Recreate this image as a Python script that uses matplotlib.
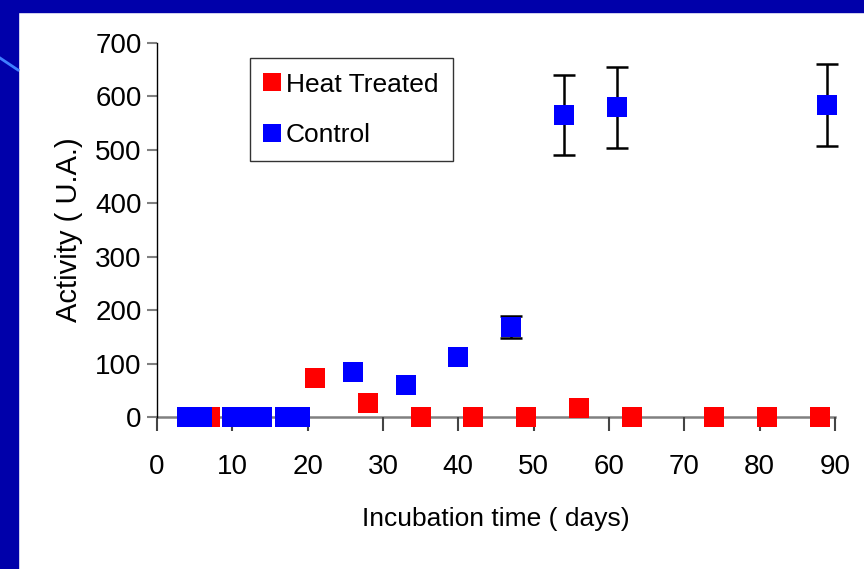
import matplotlib
matplotlib.use('Agg')
import matplotlib.pyplot as plt
from matplotlib.patches import Rectangle
from matplotlib.lines import Line2D

plt.rcParams['font.family'] = ['Liberation Sans', 'DejaVu Sans']

# Данные
heat_days = [4, 7, 14, 18, 21, 28, 35, 42, 49, 56, 63, 74, 81, 88]
heat_activity = [0, 0, 0, 0, 73, 26, 0, 0, 0, 17, 0, 0, 0, 0]

control_days = [4, 6, 10, 12, 14, 17, 19, 26, 33, 40, 47, 54, 61, 89]
control_activity = [0, 0, 0, 0, 0, 0, 0, 84, 60, 112, 168, 565, 580, 584]
control_err = [0, 0, 0, 0, 0, 0, 0, 0, 0, 0, 21, 75, 76, 76]

x_ticks = [0, 10, 20, 30, 40, 50, 60, 70, 80, 90]
y_ticks = [0, 100, 200, 300, 400, 500, 600, 700]

fig = plt.figure(figsize=(8.64, 5.69), dpi=100)
fig.patch.set_facecolor('white')

# Фон слайда: синие полосы слева и сверху
slide_blue = '#0000AA'
fig.add_artist(Rectangle((0, 0), 18 / 864, 1, transform=fig.transFigure, color=slide_blue, zorder=0))
fig.add_artist(Rectangle((0, 1 - 12 / 569), 1, 12 / 569, transform=fig.transFigure, color=slide_blue, zorder=0))
fig.add_artist(Line2D([0, 18 / 864], [1 - 58 / 569, 1 - 70 / 569], transform=fig.transFigure,
                      color='#3F7FFF', linewidth=2, zorder=1))

ax = fig.add_axes([157 / 864, 1 - 417 / 569, (835 - 157) / 864, (417 - 43) / 569])

# Планки погрешностей только там, где они есть
err_idx = [i for i, e in enumerate(control_err) if e > 0]
ax.errorbar([control_days[i] for i in err_idx], [control_activity[i] for i in err_idx],
            yerr=[control_err[i] for i in err_idx], fmt='none', ecolor='black',
            elinewidth=1.8, capsize=8, capthick=1.8, zorder=2, clip_on=False)
ax.plot(heat_days, heat_activity, linestyle='none', marker='s', markersize=14, color='#FF0000',
        markeredgewidth=0, label='Heat Treated', zorder=3, clip_on=False)
ax.plot(control_days, control_activity, linestyle='none', marker='s', markersize=14, color='#0000FF',
        markeredgewidth=0, label='Control', zorder=4, clip_on=False)

ax.set_xlim(0, 90)
ax.set_ylim(0, 700)
ax.set_xticks(x_ticks)
ax.set_yticks(y_ticks)

ax.spines['top'].set_visible(False)
ax.spines['right'].set_visible(False)
ax.spines['left'].set_color('black')
ax.spines['left'].set_linewidth(1.0)
ax.spines['bottom'].set_color('#808080')
ax.spines['bottom'].set_linewidth(1.8)
ax.spines['bottom'].set_zorder(1)

ax.tick_params(axis='y', direction='out', length=7, width=1.5, color='#808080',
               labelsize=20, pad=4)
ax.tick_params(axis='x', direction='out', length=10, width=1.5, color='#444444',
               labelsize=20, pad=17)

ax.set_xlabel('Incubation time ( days)', fontsize=19, labelpad=19)
ax.set_ylabel('Activity ( U.A.)', fontsize=21, labelpad=9)

leg = ax.legend(loc='upper left', bbox_to_anchor=(250 / 864, 1 - 58 / 569), bbox_transform=fig.transFigure,
                fontsize=19, frameon=True, fancybox=False, edgecolor='black', handlelength=0.6,
                handletextpad=0.2, borderpad=0.55, labelspacing=1.0, markerscale=1.0, borderaxespad=0)
leg.get_frame().set_linewidth(1.0)
for h in leg.legend_handles:
    h.set_markersize(13)

fig.savefig('out.png', dpi=100, facecolor=fig.get_facecolor())
plt.close(fig)
